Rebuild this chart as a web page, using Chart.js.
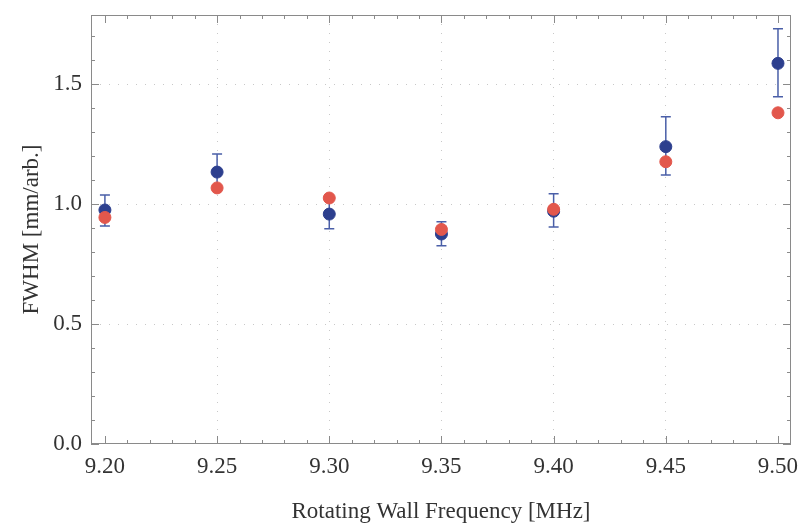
<!DOCTYPE html>
<html>
<head>
<meta charset="utf-8">
<script src="https://cdn.jsdelivr.net/npm/chart.js@4"></script>
<style>
  html, body { margin: 0; padding: 0; background: #fff; }
  #wrap { width: 801px; height: 523px; position: relative; }
</style>
</head>
<body>
<div id="wrap"><canvas id="chart"></canvas></div>
<script>
// rotating wall frequency [MHz]
const freqs = [9.20, 9.25, 9.30, 9.35, 9.40, 9.45, 9.50];
// measured FWHM (blue) with error bars
const measured = [0.975, 1.133, 0.958, 0.875, 0.970, 1.239, 1.586];
const errLow = [0.908, 1.058, 0.897, 0.826, 0.904, 1.121, 1.447];
const errHigh = [1.038, 1.208, 1.018, 0.926, 1.043, 1.364, 1.730];
// model FWHM (red)
const model = [0.944, 1.067, 1.025, 0.894, 0.978, 1.176, 1.380];

const xMajor = [9.20, 9.25, 9.30, 9.35, 9.40, 9.45, 9.50];
const xTickLabels = ["9.20", "9.25", "9.30", "9.35", "9.40", "9.45", "9.50"];
const yMajor = [0.0, 0.5, 1.0, 1.5];
const yTickLabels = ["0.0", "0.5", "1.0", "1.5"];

const blue = "#2d3f8e";
const red = "#e2574c";
const barColor = "#4a5fa8";
const frameColor = "#8a8a8a";

const xAll = [];
for (let i = 919; i <= 950; i++) xAll.push(i / 100);
const yAll = [];
for (let i = 0; i <= 17; i++) yAll.push(i / 10);

const isMajorX = v => xMajor.some(m => Math.abs(m - v) < 1e-6);
const isMajorY = v => yMajor.some(m => Math.abs(m - v) < 1e-6);

const errorBars = {
  id: "errorBars",
  beforeDatasetsDraw(chart) {
    const { ctx, scales: { x, y } } = chart;
    ctx.save();
    ctx.strokeStyle = barColor;
    ctx.lineWidth = 1.5;
    freqs.forEach((f, i) => {
      const px = x.getPixelForValue(f);
      const top = y.getPixelForValue(errHigh[i]);
      const bot = y.getPixelForValue(errLow[i]);
      ctx.beginPath();
      ctx.moveTo(px, top); ctx.lineTo(px, bot);
      ctx.moveTo(px - 5, top); ctx.lineTo(px + 5, top);
      ctx.moveTo(px - 5, bot); ctx.lineTo(px + 5, bot);
      ctx.stroke();
    });
    ctx.restore();
  }
};

// inward tick marks on all four sides
const frameTicks = {
  id: "frameTicks",
  afterDraw(chart) {
    const { ctx, chartArea: a, scales: { x, y } } = chart;
    ctx.save();
    ctx.strokeStyle = frameColor;
    ctx.lineWidth = 1;
    ctx.beginPath();
    xAll.forEach(v => {
      if (v < 9.2 - 1e-6) return;
      const px = Math.round(x.getPixelForValue(v)) + 0.5;
      const len = isMajorX(v) ? 8 : 4;
      ctx.moveTo(px, a.bottom); ctx.lineTo(px, a.bottom - len);
      ctx.moveTo(px, a.top); ctx.lineTo(px, a.top + len);
    });
    yAll.forEach(v => {
      const py = Math.round(y.getPixelForValue(v)) + 0.5;
      const len = isMajorY(v) ? 8 : 4;
      ctx.moveTo(a.left, py); ctx.lineTo(a.left + len, py);
      ctx.moveTo(a.right, py); ctx.lineTo(a.right - len, py);
    });
    ctx.stroke();
    ctx.strokeRect(a.left + 0.5, a.top + 0.5, a.right - a.left - 1, a.bottom - a.top - 1);
    ctx.restore();
  }
};

new Chart(document.getElementById("chart"), {
  type: "scatter",
  data: {
    datasets: [
      {
        label: "model",
        data: freqs.map((f, i) => ({ x: f, y: model[i] })),
        backgroundColor: red,
        borderColor: red,
        pointRadius: 6,
        order: 0
      },
      {
        label: "measured",
        data: freqs.map((f, i) => ({ x: f, y: measured[i] })),
        backgroundColor: blue,
        borderColor: blue,
        pointRadius: 6,
        order: 1
      }
    ]
  },
  options: {
    responsive: true,
    maintainAspectRatio: false,
    animation: false,
    layout: { padding: { top: 15, right: 10, left: 0, bottom: 0 } },
    plugins: { legend: { display: false }, tooltip: { enabled: false } },
    scales: {
      x: {
        type: "linear",
        min: 9.1938,
        max: 9.5058,
        afterBuildTicks: s => { s.ticks = xMajor.map(v => ({ value: v })); },
        afterFit: s => { s.height = 79; s.paddingLeft = 0; s.paddingRight = 0; },
        ticks: {
          callback: (v, i) => xTickLabels[i],
          color: "#333",
          padding: 9,
          maxRotation: 0,
          font: { family: "Liberation Serif", size: 23 }
        },
        grid: {
          drawTicks: false,
          color: ctx => (ctx.tick && (ctx.tick.value < 9.21 || ctx.tick.value > 9.49)) ? "rgba(0,0,0,0)" : "#c8c8c8",
          lineWidth: 1
        },
        border: { display: false, dash: [1, 8] },
        title: {
          display: true,
          text: "Rotating Wall Frequency [MHz]",
          color: "#333",
          font: { family: "Liberation Serif", size: 23, lineHeight: 1 },
          padding: { top: 0, bottom: 0 }
        }
      },
      y: {
        min: 0,
        max: 1.7875,
        afterBuildTicks: s => { s.ticks = yMajor.map(v => ({ value: v })); },
        afterFit: s => { s.width = 91; s.paddingTop = 0; s.paddingBottom = 0; },
        ticks: {
          callback: (v, i) => yTickLabels[i],
          color: "#333",
          padding: 9,
          font: { family: "Liberation Serif", size: 23 }
        },
        grid: {
          drawTicks: false,
          color: ctx => (ctx.tick && ctx.tick.value < 0.01) ? "rgba(0,0,0,0)" : "#c8c8c8",
          lineWidth: 1
        },
        border: { display: false, dash: [1, 8] },
        title: {
          display: true,
          text: "FWHM [mm/arb.]",
          color: "#333",
          font: { family: "Liberation Serif", size: 23 },
          padding: { top: 18, bottom: 0 }
        }
      }
    }
  },
  plugins: [errorBars, frameTicks]
});
</script>
</body>
</html>
